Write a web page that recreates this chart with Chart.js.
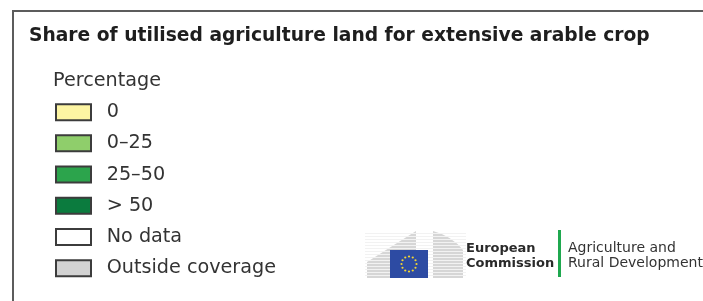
<!DOCTYPE html>
<html>
<head>
<meta charset="utf-8">
<script src="https://cdn.jsdelivr.net/npm/chart.js@4"></script>
<style>
    html, body { margin: 0; padding: 0; background: #fff; }
</style>
</head>
<body>
<canvas id="chart" width="703" height="301"></canvas>
<script>
const chartTitle = 'Share of utilised agriculture land for extensive arable crop'
const legendTitle = 'Percentage'
const categories = ['0', '0–25', '25–50', '> 50', 'No data', 'Outside coverage']
const classColors = ['#fdf5a3', '#8fce6b', '#2ca44c', '#0b7b3e', '#ffffff', '#d2d2d2']
const logoLeft = ['European', 'Commission']
const logoRight = ['Agriculture and', 'Rural Development']

// frame round the legend and the EC logo block
const framePlugin = {
    id: 'frameAndLogo',
    beforeDraw(chart) {
        const ctx = chart.ctx
        ctx.save()
        ctx.strokeStyle = '#5c5c5c'
        ctx.lineWidth = 2
        ctx.beginPath()
        ctx.moveTo(13, 320)
        ctx.lineTo(13, 11)
        ctx.lineTo(720, 11)
        ctx.stroke()
        ctx.restore()
    },
    afterDraw(chart) {
        const ctx = chart.ctx
        ctx.save()

        // building
        ctx.fillStyle = '#d6d6d6'
        ctx.beginPath()
        ctx.moveTo(367, 262)
        ctx.lineTo(416, 231)
        ctx.lineTo(416, 278)
        ctx.lineTo(367, 278)
        ctx.closePath()
        ctx.fill()
        ctx.beginPath()
        ctx.moveTo(433, 231)
        ctx.quadraticCurveTo(452, 236, 463, 250)
        ctx.lineTo(463, 278)
        ctx.lineTo(433, 278)
        ctx.closePath()
        ctx.fill()
        ctx.strokeStyle = '#f2f2f2'
        ctx.lineWidth = 1
        for (let y = 233.5; y < 278; y += 3) {
            ctx.beginPath()
            ctx.moveTo(365, y)
            ctx.lineTo(466, y)
            ctx.stroke()
        }

        // flag
        ctx.fillStyle = '#2d4ba3'
        ctx.fillRect(390, 250, 38, 28)
        ctx.fillStyle = '#f4d631'
        for (let k = 0; k < 12; k++) {
            const a = k * Math.PI / 6
            ctx.beginPath()
            ctx.arc(409 + 7.5 * Math.cos(a), 264 + 7.5 * Math.sin(a), 1.1, 0, Math.PI * 2)
            ctx.fill()
        }

        ctx.fillStyle = '#2a2a2a'
        ctx.font = 'bold 13px "DejaVu Sans"'
        ctx.textBaseline = 'alphabetic'
        ctx.fillText(logoLeft[0], 466, 252)
        ctx.fillText(logoLeft[1], 466, 267)

        ctx.fillStyle = '#1fa84f'
        ctx.fillRect(558, 230, 3, 47)

        ctx.fillStyle = '#333333'
        ctx.font = '14px "DejaVu Sans"'
        ctx.fillText(logoRight[0], 568, 252)
        ctx.fillText(logoRight[1], 568, 267)
        ctx.restore()
    }
}

const datasets = categories.map((label, i) => ({
    label: label,
    data: [],
    backgroundColor: classColors[i],
    borderColor: '#3c3c3c',
    borderWidth: 2
}))

new Chart(document.getElementById('chart'), {
    type: 'bar',
    data: {labels: [], datasets: datasets},
    options: {
        responsive: false,
        animation: false,
        devicePixelRatio: 1,
        layout: {padding: {left: 29, top: 0, right: 0, bottom: 0}},
        scales: {
            x: {display: false},
            y: {
                display: true,
                ticks: {display: false},
                grid: {display: false},
                border: {display: false},
                afterFit: (axis) => { axis.width = 24 }
            }
        },
        plugins: {
            tooltip: {enabled: false},
            title: {
                display: true,
                text: chartTitle,
                align: 'start',
                color: '#1e1e1e',
                font: {family: 'DejaVu Sans', size: 18.7, weight: 'bold'},
                // negative bottom so the title takes no room from the legend below
                padding: {top: 24.8, bottom: -47.2}
            },
            legend: {
                position: 'chartArea',
                align: 'start',
                title: {
                    display: true,
                    text: legendTitle,
                    position: 'start',
                    color: '#333333',
                    font: {family: 'DejaVu Sans', size: 19.2},
                    padding: {top: 71.6, bottom: 4.9}
                },
                labels: {
                    boxWidth: 35,
                    boxHeight: 16,
                    padding: 3,
                    color: '#333333',
                    font: {family: 'DejaVu Sans', size: 19.2, lineHeight: '28.2px'},
                    generateLabels: (chart) => chart.data.datasets.map((ds, i) => ({
                        text: [' ' + ds.label],
                        fillStyle: ds.backgroundColor,
                        strokeStyle: ds.borderColor,
                        lineWidth: ds.borderWidth,
                        hidden: false,
                        datasetIndex: i
                    }))
                }
            }
        }
    },
    plugins: [framePlugin]
})
</script>
</body>
</html>
